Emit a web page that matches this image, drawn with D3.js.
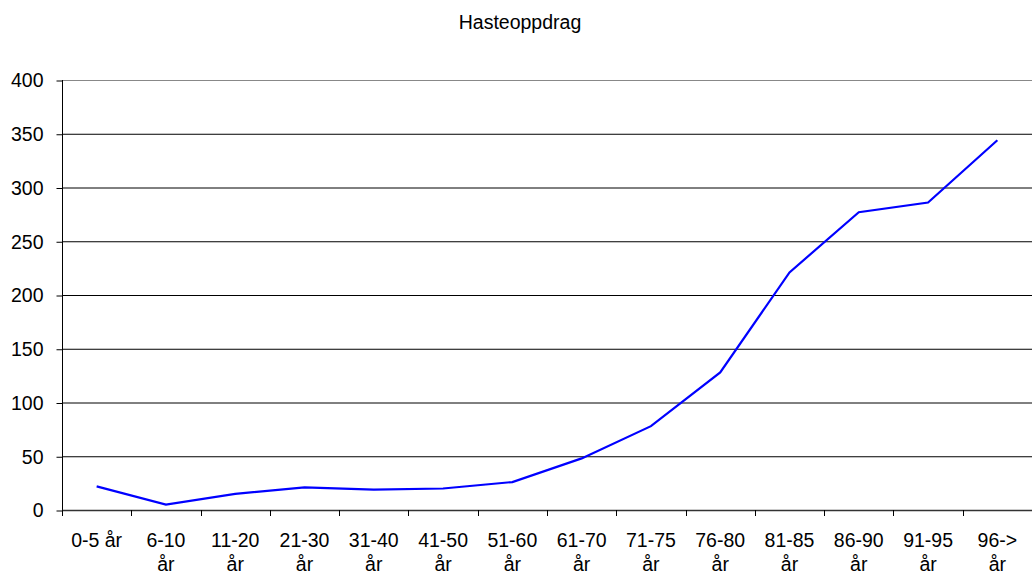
<!DOCTYPE html>
<html><head><meta charset="utf-8">
<script src="https://cdn.jsdelivr.net/npm/d3@7"></script>
<style>body{margin:0;background:#fff}svg{display:block}text{font-family:"Liberation Sans",Arial,sans-serif;fill:#000}</style>
</head><body><svg id="c" width="1032" height="574"></svg>
<script>
const categories = ["0-5 år","6-10 år","11-20 år","21-30 år","31-40 år","41-50 år","51-60 år","61-70 år","71-75 år","76-80 år","81-85 år","86-90 år","91-95 år","96-> år"];
const values = [22,5,15,21,19,20,26,48,78,128,221,277,286,344];
const yTicks = [0,50,100,150,200,250,300,350,400];
const title = "Hasteoppdrag";

const svg = d3.select("#c");
const L=62, R=1032, T=80, B=510;
const x = d3.scaleBand().domain(categories).range([L,R]);
const y = d3.scaleLinear().domain([0,400]).range([B,T]);

svg.append("text").attr("x",520).attr("y",29).attr("text-anchor","middle").style("font-size","19.5px").text(title);

// gridlines
svg.append("g").selectAll("line").data(yTicks.filter(d=>d>0)).join("line")
  .attr("x1",L).attr("x2",R).attr("y1",d=>y(d)+0.5).attr("y2",d=>y(d)+0.5)
  .attr("stroke",d=>d===400?"#888":"#000").attr("stroke-width",1);

// y axis
const ya = svg.append("g").attr("transform",`translate(${L+0.5},0)`)
  .call(d3.axisLeft(y).tickValues(yTicks).tickSize(6).tickPadding(13));
ya.select(".domain").attr("stroke","#000").attr("d",`M0,${T}V${B}`);
ya.selectAll(".tick line").attr("stroke","#000").attr("transform","translate(0,0.5)");
ya.selectAll("text").style("font-size","19.5px").attr("dy","0.35em");

// x axis
const boundaries = categories.map(c=>x(c)).concat([R]);
svg.append("line").attr("x1",L).attr("x2",R).attr("y1",B+0.5).attr("y2",B+0.5).attr("stroke","#333").attr("stroke-width",1.5);
svg.append("g").selectAll("line").data(boundaries.slice(0,-1)).join("line")
  .attr("x1",d=>Math.round(d)+0.5).attr("x2",d=>Math.round(d)+0.5).attr("y1",B).attr("y2",B+6).attr("stroke","#000");

const lab = svg.append("g").selectAll("text").data(categories).join("text")
  .attr("x",d=>x(d)+x.bandwidth()/2).attr("y",547).attr("text-anchor","middle").style("font-size","19.5px");
lab.each(function(d){
  const t=d3.select(this);
  if(d==="0-5 år"){ t.text(d); return; }
  const parts=d.split(" ");
  t.append("tspan").attr("x",x(d)+x.bandwidth()/2).text(parts[0]);
  t.append("tspan").attr("x",x(d)+x.bandwidth()/2).attr("dy",24).text(parts[1]);
});

// line
svg.append("path").datum(values).attr("fill","none").attr("stroke","#0000ff").attr("stroke-width",2.2)
  .attr("d",d3.line().x((d,i)=>x(categories[i])+x.bandwidth()/2).y(d=>y(d)));
</script></body></html>
